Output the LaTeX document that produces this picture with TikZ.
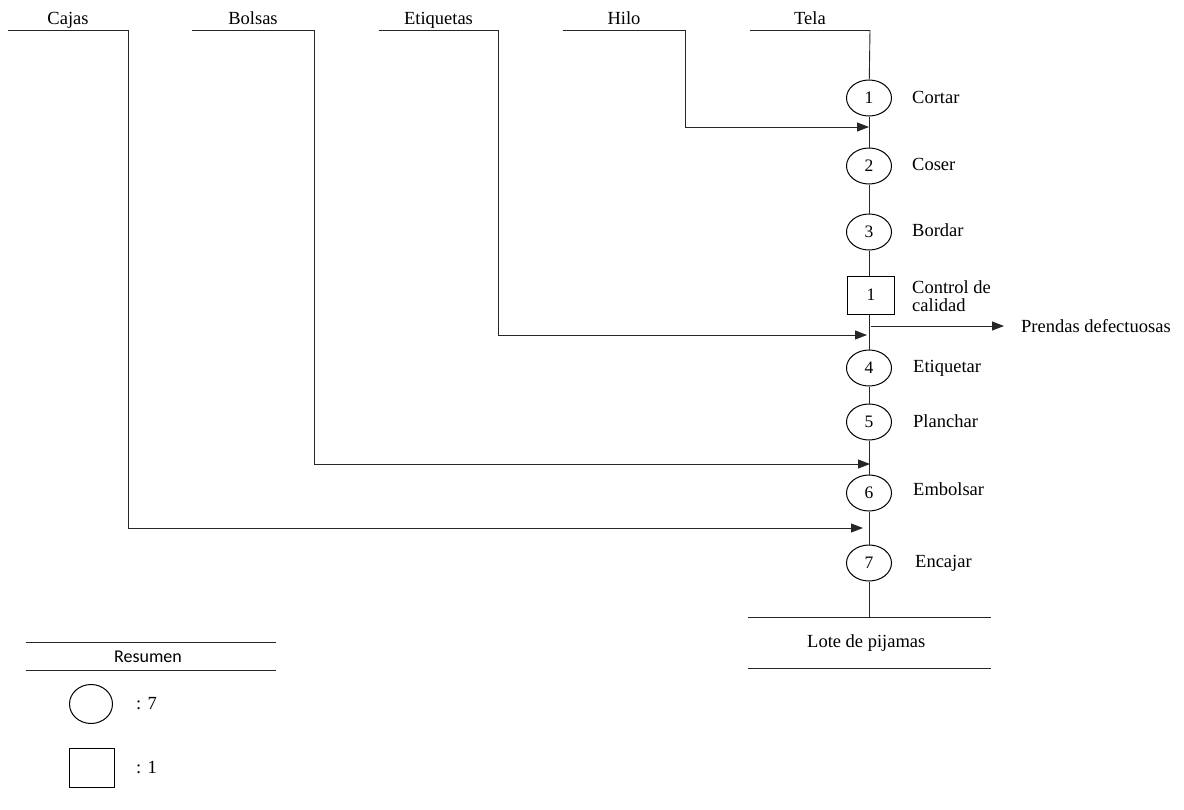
\documentclass[tikz,border=0pt]{standalone}
\usepackage{fontspec}
\setmainfont{Liberation Serif}
\newfontfamily\calib{Carlito}
\usetikzlibrary{shapes.geometric,arrows.meta}
\begin{document}
\begin{tikzpicture}[x=1pt,y=-1pt,
  ln/.style={draw=black!85,line width=0.9pt},
  arr/.style={ln,-{Triangle[length=12pt,width=9pt]}},
  op/.style={ellipse,draw=black,line width=1pt,minimum width=45pt,minimum height=36pt,inner sep=0pt,font=\fontsize{17.5}{19}\selectfont},
  insp/.style={rectangle,draw=black,line width=1pt,minimum width=47pt,minimum height=38pt,inner sep=0pt,font=\fontsize{17.5}{19}\selectfont},
  lbl/.style={anchor=west,inner sep=0pt,font=\fontsize{18.5}{20}\selectfont,align=left},
  top/.style={inner sep=0pt,font=\fontsize{18.5}{20}\selectfont}
]
\useasboundingbox (0,0) rectangle (1184,809);
% input lines
\foreach \nm/\xa/\xb/\t in {cajas/8/128/Cajas, bolsas/192/314/Bolsas, etiq/379/498/Etiquetas, hilo/563/685/Hilo, tela/750/870/Tela}{
  \coordinate (\nm L) at (\xa,30);
  \coordinate (\nm R) at (\xb,30);
  \node[top,anchor=base] (\nm T) at ({(\xa+\xb)/2},24) {\t};
}
\draw[ln] (cajasL) -- (cajasR);
\draw[ln] (bolsasL) -- (bolsasR);
\draw[ln] (etiqL) -- (etiqR);
\draw[ln] (hiloL) -- (hiloR);
\draw[ln] (telaL) -- (telaR);

% operations
\node[op] (c1) at (869,98) {1};
\node[op] (c2) at (869,166) {2};
\node[op] (c3) at (869,232) {3};
\node[insp] (b1) at (871,295) {1};
\node[op] (c4) at (869,368) {4};
\node[op] (c5) at (869,422) {5};
\node[op] (c6) at (869,493) {6};
\node[op] (c7) at (869,563) {7};

\node[lbl] (l1) at (912,97) {Cortar};
\node[lbl] (l2) at (912,164) {Coser};
\node[lbl] (l3) at (912,230) {Bordar};
\node[lbl] (lb) at (912,296) {Control de\\[-2pt]calidad};
\node[lbl] (l4) at (913,368) {Etiquetar};
\node[lbl] (l5) at (913,421) {Planchar};
\node[lbl] (l6) at (913,489) {Embolsar};
\node[lbl] (l7) at (915,563) {Encajar};

% main line
\coordinate (bot) at (869,617);
\draw[ln] (telaR) -- (c1);
\draw[ln] (c1) -- (c2);
\draw[ln] (c2) -- (c3);
\draw[ln] (c3) -- (c3 |- b1.north);
\draw[ln] (c4 |- b1.south) -- (c4);
\draw[ln] (c4) -- (c5);
\draw[ln] (c5) -- (c6);
\draw[ln] (c6) -- (c7);
\draw[ln] (c7) -- (bot);

% incoming arrows
\coordinate (hiloE) at (869,127);
\coordinate (etiqE) at (867,335);
\coordinate (bolsasE) at (870,464);
\coordinate (cajasE) at (863,528);
\draw[arr] (hiloR) |- (hiloE);
\draw[arr] (etiqR) |- (etiqE);
\draw[arr] (bolsasR) |- (bolsasE);
\draw[arr] (cajasR) |- (cajasE);

% output arrow
\coordinate (pdS) at (871,326);
\node[lbl] (pd) at (1021,326) {Prendas defectuosas};
\draw[arr] (pdS) -- (1004,326);

% bottom
\coordinate (botL) at (748,617);
\coordinate (botR) at (991,617);
\draw[ln] (botL) -- (botR);
\node[top,anchor=west] (lote) at (807,643) {Lote de pijamas};
\coordinate (bot2L) at (748,668);
\coordinate (bot2R) at (991,668);
\draw[ln] (bot2L) -- (bot2R);

% legend
\coordinate (rs1L) at (26,642);
\coordinate (rs1R) at (276,642);
\coordinate (rs2L) at (26,670);
\coordinate (rs2R) at (276,670);
\draw[ln] (rs1L) -- (rs1R);
\draw[ln] (rs2L) -- (rs2R);
\node[inner sep=0pt,font=\calib\fontsize{18}{20}\selectfont] (res) at (148,657) {Resumen};
\node[ellipse,draw=black,line width=1pt,minimum width=43pt,minimum height=39pt,inner sep=0pt] (lc) at (91,704) {};
\node[rectangle,draw=black,line width=1pt,minimum width=45pt,minimum height=39pt,inner sep=0pt] (ls) at (92,768) {};
\node[lbl] (lc7) at (136,704) {: 7};
\node[lbl] (ls1) at (136,768) {: 1};
\end{tikzpicture}
\end{document}
